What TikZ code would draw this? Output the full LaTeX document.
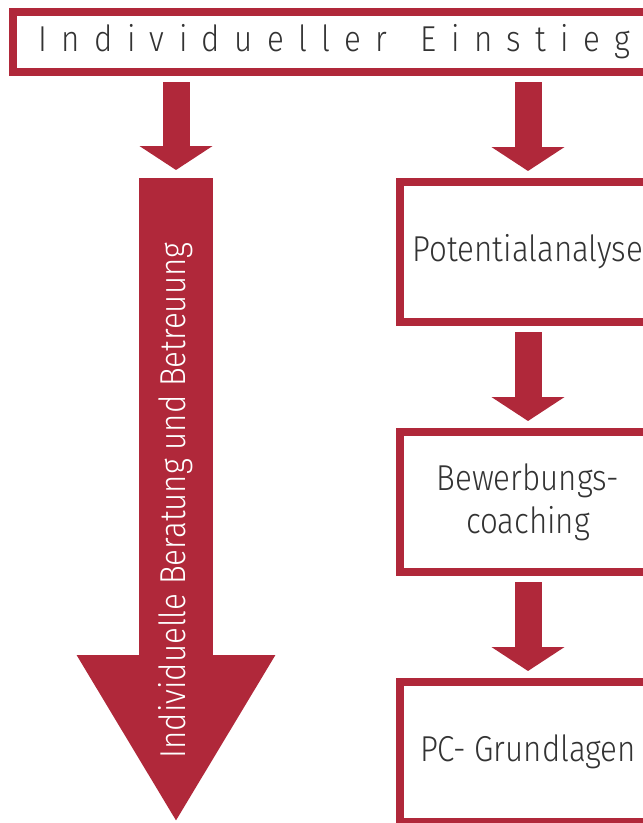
\documentclass[tikz,border=0pt]{standalone}
\usepackage{fontspec}
\setmainfont{Fira Sans}[UprightFont=* Light, FakeStretch=0.87]
\usetikzlibrary{arrows.meta,positioning}

\definecolor{brandred}{RGB}{176,40,58}
\definecolor{textgray}{RGB}{51,51,51}

\begin{document}
\begin{tikzpicture}[x=1pt,y=-1pt,
    box/.style={draw=brandred, line width=8pt, rectangle, minimum width=256pt,
      minimum height=140pt, text=textgray, align=center,
      font=\fontsize{36}{43}\selectfont},
    flow/.style={draw=brandred, line width=27pt,
      -{Triangle[width=72pt,length=24pt]}, shorten <=6pt, shorten >=7pt}
  ]
  \useasboundingbox (0,0) rectangle (643,823);

  % header
  \node[box, minimum width=643pt, minimum height=60pt] (einstieg) at (334.5,42)
    {\addfontfeature{LetterSpace=40}Individueller\hspace{10pt} Einstieg};

  % right column
  \node[box] (potential) at (528,252) {Potentialanalyse};
  \node[box, below=102pt of potential] (coaching) {Bewerbungs-\\coaching};
  \node[box, below=102pt of coaching] (pc) {PC- Grundlagen};

  % left column
  \coordinate (bigtop) at (176,178);
  \coordinate (bigtip) at (176,823);
  \draw[flow, shorten >=8pt] (einstieg.south -| bigtop) -- (bigtop);
  \draw[draw=brandred, line width=74pt, -{Triangle[width=186pt,length=168pt]}]
    (bigtop) -- (bigtip)
    node[midway, rotate=90, text=white, font=\fontsize{36}{37}\selectfont]
      (beratung) {Individuelle Beratung und Betreuung};

  \draw[flow] (einstieg.south -| potential) -- (potential);
  \draw[flow] (potential) -- (coaching);
  \draw[flow] (coaching) -- (pc);
\end{tikzpicture}
\end{document}
